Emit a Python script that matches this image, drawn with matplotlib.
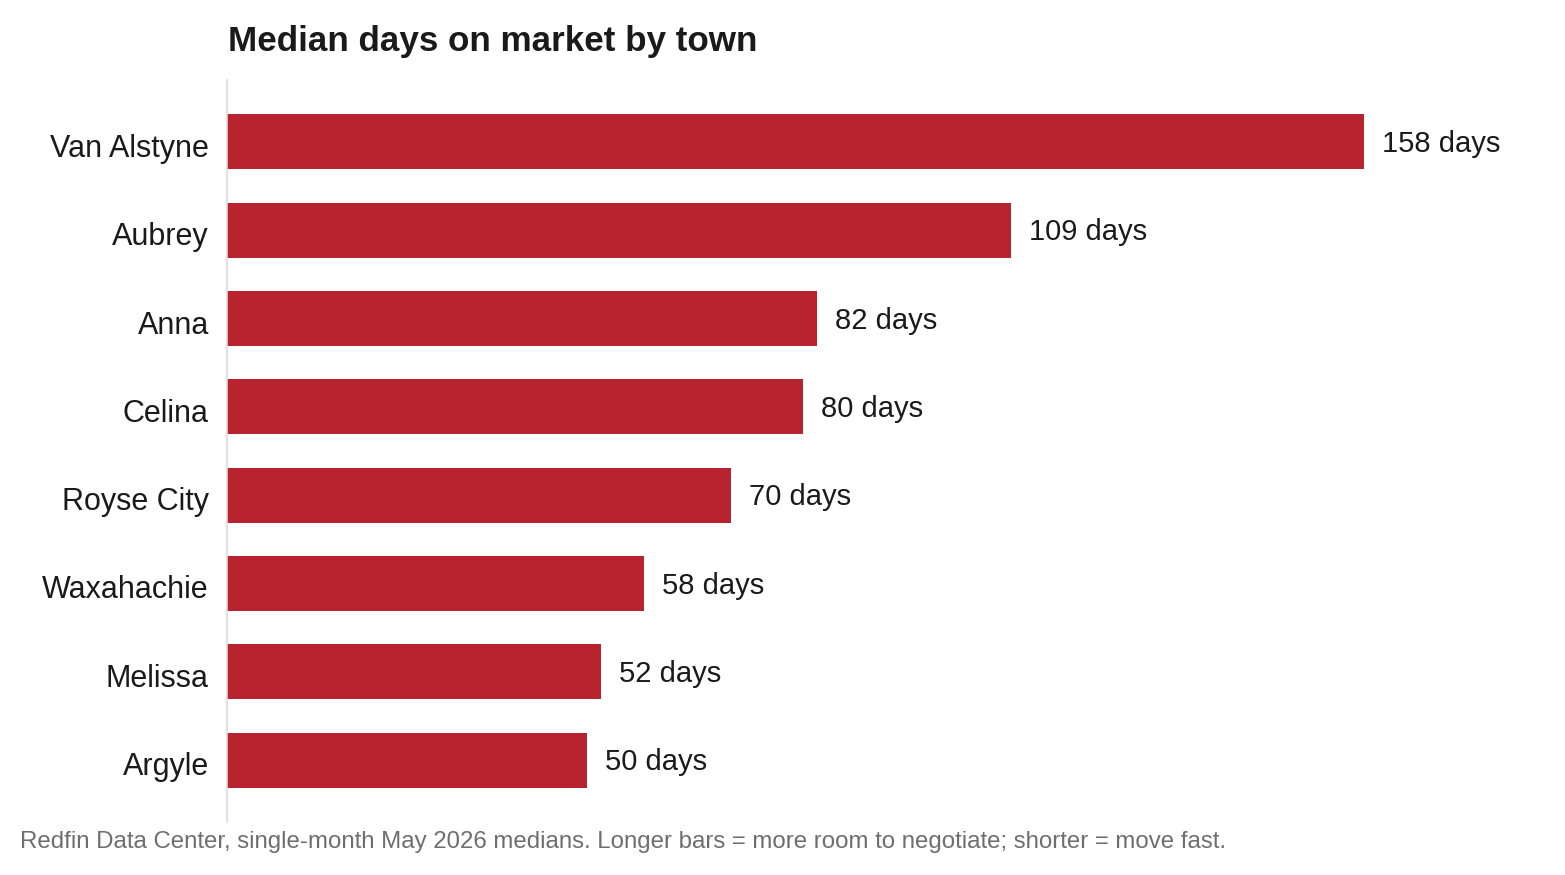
#!/usr/bin/env python3
# Median days on market by town - horizontal bar chart

import matplotlib
matplotlib.use('Agg')
import matplotlib.pyplot as plt
from matplotlib.transforms import ScaledTranslation

towns = ['Van Alstyne', 'Aubrey', 'Anna', 'Celina', 'Royse City',
         'Waxahachie', 'Melissa', 'Argyle']
days = [158, 109, 82, 80, 70, 58, 52, 50]
value_labels = ['%d days' % d for d in days]

title = 'Median days on market by town'
footer = ('Redfin Data Center, single-month May 2026 medians. '
          'Longer bars = more room to negotiate; shorter = move fast.')

BAR = '#B8232F'
INK = '#1a1a1a'
GREY = '#6e6e6e'

plt.rcParams['font.family'] = ['Liberation Sans', 'DejaVu Sans']

W, H = 1565, 875
fig = plt.figure(figsize=(W / 100, H / 100), dpi=100)
ax = fig.add_axes([227 / W, 1 - 822 / H, (1522 - 227) / W, (822 - 80) / H])

ypos = list(range(len(towns)))
ax.barh(ypos, days, height=0.62, color=BAR, zorder=2)

ax.set_xlim(0, 180)
ax.set_ylim(len(towns) - 0.3, -0.7)

ax.set_yticks(ypos)
ax.set_yticklabels(towns, fontsize=22, color=INK)
ax.tick_params(axis='y', length=0, pad=13)
ax.set_xticks([])
# nudge the town names down a little
shift = ScaledTranslation(0, -3.5 / 100, fig.dpi_scale_trans)
for lab in ax.get_yticklabels():
    lab.set_transform(lab.get_transform() + shift)

for s in ['top', 'right', 'bottom']:
    ax.spines[s].set_visible(False)
ax.spines['left'].set_color('#dedbd2')
ax.spines['left'].set_linewidth(1.2)

for y, d, lab in zip(ypos, days, value_labels):
    ax.annotate(lab, (d, y), xytext=(13, -1.5), textcoords='offset points',
                va='center', ha='left', fontsize=21, color=INK)

fig.text(228 / W, 1 - 42 / H, title, fontsize=25.2, fontweight='bold',
         color=INK, va='center', ha='left')
fig.text(20 / W, 1 - 842 / H, footer, fontsize=17.3, color=GREY,
         va='center', ha='left')

fig.savefig('out.png', dpi=100)
